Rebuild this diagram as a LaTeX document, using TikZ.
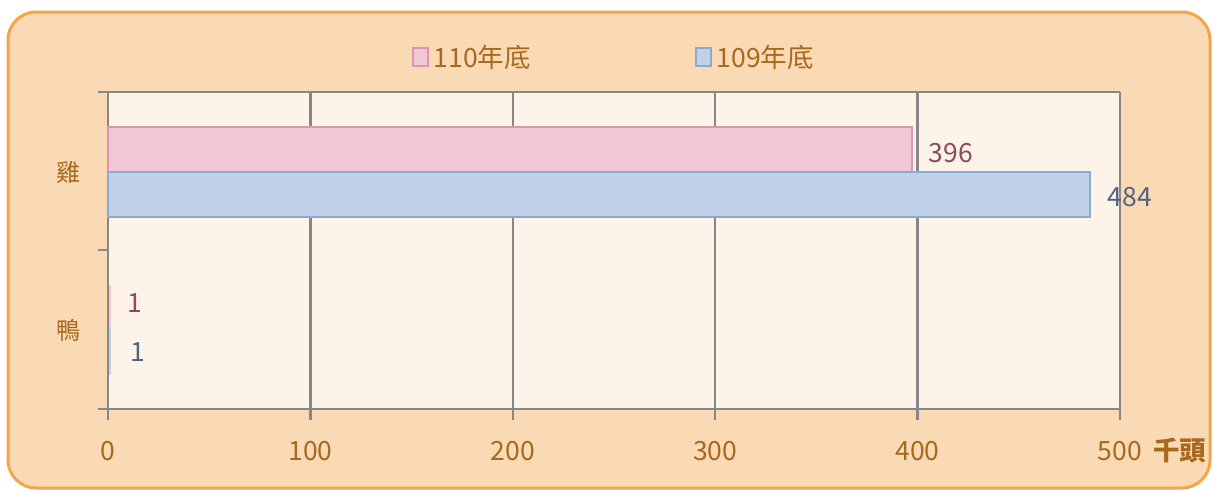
\documentclass[tikz,border=0pt]{standalone}
\usepackage{fontspec}
\setmainfont{Noto Sans CJK TC}
\usetikzlibrary{positioning}
\definecolor{framefill}{HTML}{FADAB4}
\definecolor{frameline}{HTML}{F4A547}
\definecolor{plotbg}{HTML}{FEF3E8}
\definecolor{gridgray}{HTML}{878787}
\definecolor{pinkfill}{HTML}{F0C8D5}
\definecolor{pinkline}{HTML}{DE95AF}
\definecolor{bluefill}{HTML}{BFD2E8}
\definecolor{blueline}{HTML}{8AAAD2}
\definecolor{labelbrown}{HTML}{A8681E}
\definecolor{pinktext}{HTML}{8E4B5E}
\definecolor{bluetext}{HTML}{50647F}
\tikzset{
  axislabel/.style={text=labelbrown,font=\fontsize{26.5}{30}\selectfont,inner sep=0pt},
  catlabel/.style={text=labelbrown,font=\fontsize{24}{27}\selectfont,inner sep=0pt},
  valpink/.style={text=pinktext,font=\fontsize{26.5}{30}\selectfont,inner sep=0pt},
  valblue/.style={text=bluetext,font=\fontsize{26.5}{30}\selectfont,inner sep=0pt},
  gridline/.style={draw=gridgray,line width=2.3pt},
  barpink/.style={fill=pinkfill,draw=pinkline,line width=2pt},
  barblue/.style={fill=bluefill,draw=blueline,line width=2pt}
}
\begin{document}
\begin{tikzpicture}[x=1pt,y=-1pt]
        \useasboundingbox (0,0) rectangle (1213,490);
        \draw[fill=framefill,draw=frameline,line width=3pt,rounded corners=28pt] (8,12) rectangle (1210,488);
        \fill[plotbg] (108,92) rectangle (1120,409);

        % legend
        \node[barpink,minimum width=15pt,minimum height=18pt,inner sep=0pt] (key-110) at (420,57) {};
        \node[axislabel,right=5pt of key-110] (legend-110) {110年底};
        \node[barblue,minimum width=15pt,minimum height=18pt,inner sep=0pt] (key-109) at (703,57) {};
        \node[axislabel,right=5pt of key-109] (legend-109) {109年底};

        % grid and ticks
        \foreach \v [count=\i from 0] in {0,100,200,300,400,500}
        {
            \coordinate (grid-top-\i) at (108+\v*2.024,92);
            \coordinate (grid-bot-\i) at (108+\v*2.024,420);
            \draw[gridline] (grid-top-\i) -- (grid-bot-\i);
            \node[axislabel] (tick-\i) at (108+\v*2.024,451) {\v};
        }
        \coordinate (top-left) at (98,92);
        \coordinate (mid-left) at (98,250);
        \coordinate (mid-axis) at (108,250);
        \coordinate (bot-left) at (98,409);
        \draw[gridline] (top-left) -- (grid-top-5 |- top-left);
        \draw[gridline] (bot-left) -- (grid-top-5 |- bot-left);
        \draw[gridline] (mid-left) -- (mid-axis);
        \node[axislabel,right=11pt of tick-5] (unit) {\textbf{千頭}};

        % bars
        \draw[barpink] (108,127) rectangle (912,172);
        \draw[barblue] (108,172) rectangle (1090,217);
        \fill[pinkfill] (109,285) rectangle (111,330);
        \fill[bluefill] (109,330) rectangle (111,375);

        % values
        \node[valpink] (val-chicken-110) at (951,153) {396};
        \node[valblue] (val-chicken-109) at (1130,197) {484};
        \node[valpink] (val-duck-110) at (135,303) {1};
        \node[valblue] (val-duck-109) at (138,352) {1};

        % categories
        \node[catlabel] (cat-chicken) at (68,172) {雞};
        \node[catlabel] (cat-duck) at (68,330) {鴨};
    \end{tikzpicture}
\end{document}
